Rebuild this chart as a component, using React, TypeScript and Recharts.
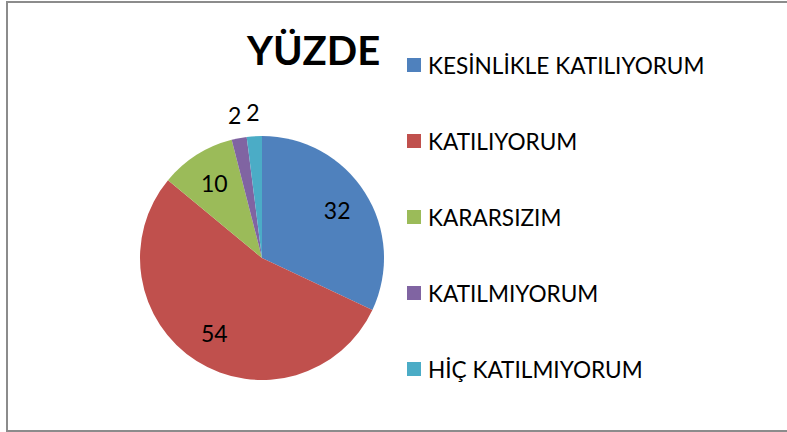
import { PieChart, Pie, Cell, Legend } from "recharts"

const categories = [
  "KESİNLİKLE KATILIYORUM",
  "KATILIYORUM",
  "KARARSIZIM",
  "KATILMIYORUM",
  "HİÇ KATILMIYORUM",
]
const values = [32, 54, 10, 2, 2]
const COLORS = ["#4F81BD", "#C0504D", "#9BBB59", "#8064A2", "#4BACC6"]

const FONT = "Lato, 'Open Sans', sans-serif"
const RADIAN = Math.PI / 180

const chartData = categories.map((name, i) => ({ name, value: values[i] }))

// small slices get their label outside the pie, like Excel does
const renderLabel = ({ cx, cy, midAngle, outerRadius, percent, value }: any) => {
  const r = percent < 0.05 ? outerRadius + 24 : outerRadius * 0.73
  const x = cx + r * Math.cos(-midAngle * RADIAN)
  const y = cy + r * Math.sin(-midAngle * RADIAN)
  return (
    <text
      x={x}
      y={y}
      fill="#000"
      fontFamily={FONT}
      fontSize={23}
      textAnchor="middle"
      dominantBaseline="central"
    >
      {value}
    </text>
  )
}

const CustomLegend = ({ payload }: any) => {
  // keep the data order (recharts sorts the payload by name)
  const items = [...(payload || [])].sort(
    (a: any, b: any) => categories.indexOf(a.value) - categories.indexOf(b.value)
  )
  return (
    <div style={{ fontFamily: FONT, fontSize: 22.6, color: "#000" }}>
      {items.map((entry: any, index: number) => (
        <div key={`leg-${index}`} style={{ height: 76, display: "flex", alignItems: "center" }}>
          <span
            style={{
              display: "inline-block",
              width: 14,
              height: 14,
              background: entry.color,
              marginRight: 7,
            }}
          />
          <span>{entry.value}</span>
        </div>
      ))}
    </div>
  )
}

export default function App() {
  return (
    <div style={{ position: "absolute", left: 0, top: 0, width: 787, height: 432, overflow: "hidden", background: "#fff" }}>
      <div
        style={{
          position: "absolute",
          left: 6,
          top: 1,
          width: 800,
          height: 427,
          border: "2px solid #8c8c8c",
        }}
      />
      <div
        style={{
          position: "absolute",
          left: 247,
          top: 26,
          fontFamily: FONT,
          fontWeight: 700,
          fontSize: 40,
          lineHeight: "48px",
          color: "#000",
        }}
      >
        YÜZDE
      </div>
      <PieChart
        width={787}
        height={432}
        margin={{ top: 0, right: 0, bottom: 0, left: 0 }}
        style={{ position: "absolute", left: 0, top: 0 }}
      >
        <Pie
          data={chartData}
          dataKey="value"
          nameKey="name"
          cx={262}
          cy={258}
          outerRadius={122}
          startAngle={90}
          endAngle={-270}
          stroke="none"
          labelLine={false}
          label={renderLabel}
          isAnimationActive={false}
        >
          {chartData.map((entry, index) => (
            <Cell key={`cell-${index}`} fill={COLORS[index % COLORS.length]} />
          ))}
        </Pie>
        <Legend
          layout="vertical"
          content={<CustomLegend />}
          wrapperStyle={{ position: "absolute", left: 407, top: 27, width: 380, height: 390 }}
        />
      </PieChart>
    </div>
  )
}
